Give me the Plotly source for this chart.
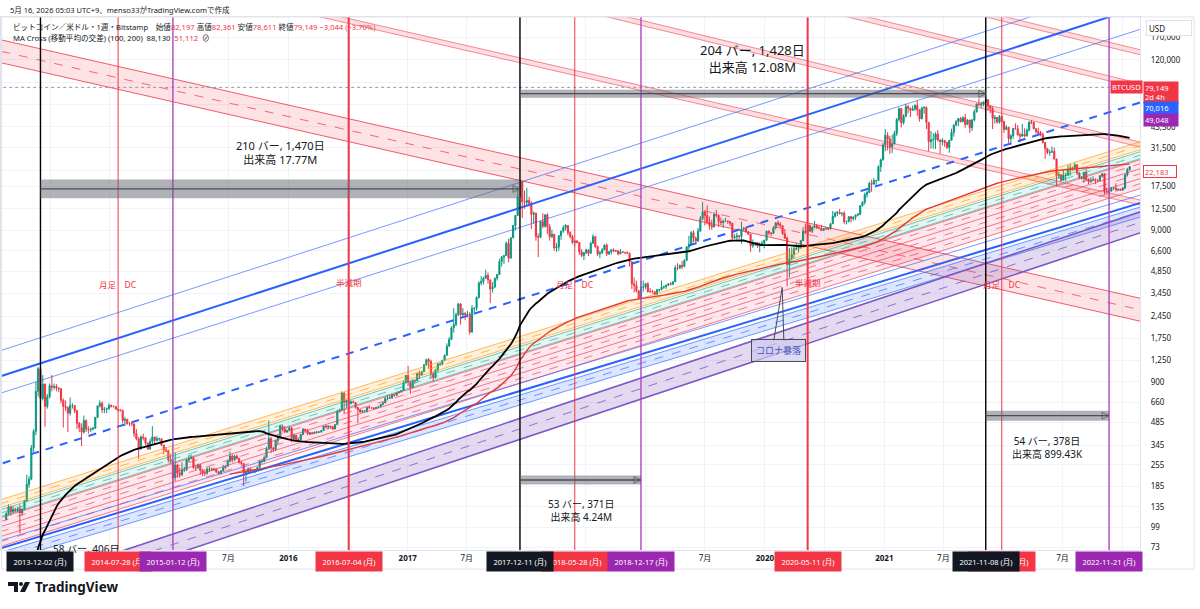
import numpy as np
import pandas as pd
import plotly.graph_objects as go

FONT = "Noto Sans, Noto Sans CJK JP, sans-serif"
INK = "#131722"
RED = "#f23645"
GREEN = "#089981"
BLUE = "#2962ff"
PURPLE = "#9c27b0"

# ---------------------------------------------------------------- DATA
# weekly closes before the visible window (2011-09-12 .. 2013-08-12); used only for the moving averages
pre_closes = [
    5.9, 5.3, 5.0, 4.9, 4.0, 3.2, 3.2, 3.2, 3.0, 2.3, 2.5, 2.8, 3.0, 3.2, 3.9, 4.7,
    6.5, 7.0, 6.3, 5.7, 5.9, 5.8, 4.3, 5.0, 4.9, 5.0, 5.3, 4.8, 4.9, 4.9, 4.9, 5.1, 5.1, 5.1,
    5.0, 5.1, 5.1, 5.2, 5.5, 5.9, 6.4, 6.6, 6.7, 7.3, 8.6, 8.8, 10.9, 11.5, 11.7, 10.5, 10.4,
    10.9, 11.4, 12.3, 12.3, 12.6, 11.8, 11.8, 10.6, 10.8, 10.9, 11.4, 12.3, 12.5,
    13.4, 13.5, 13.4, 13.4, 13.5,
    14.2, 15.3, 17.4, 20.6, 22.5, 26.3, 29.8, 34.3, 46.6, 47.0, 69.9, 93.0,
    162, 90, 127, 127, 112, 117, 122, 130, 122, 103, 100, 108, 94, 76, 94, 91, 95, 104, 105, 111,
]

first_week = "2013-08-19"
closes = [
    # 2013
    122, 135, 125, 130, 127, 131, 123, 130, 148, 190, 205, 330, 425, 780, 1100, 700, 870, 620, 720, 850,
    # 2014
    830, 840, 820, 810, 680, 620, 610, 560, 630, 630, 580, 480, 450, 420, 500, 440, 435,
    440, 445, 525, 625, 650, 590, 595, 600, 630, 620, 620, 595, 590, 585, 500, 510, 477,
    477, 475, 410, 380, 330, 390, 385, 355, 325, 365, 390, 370, 380, 380, 345, 320, 315, 275,
    # 2015
    270, 210, 255, 225, 220, 235, 237, 275, 280, 285, 245, 245, 255, 235, 225, 225, 240,
    240, 237, 240, 230, 223, 233, 244, 250, 270, 292, 275, 292, 281, 265, 260, 225, 229, 240,
    230, 230, 238, 246, 270, 270, 285, 325, 380, 330, 323, 370, 390, 460, 440, 420, 430,
    # 2016
    448, 380, 400, 370, 375, 405, 440, 430, 410, 415, 412, 420, 420, 420, 430, 460, 455,
    460, 455, 440, 470, 575, 585, 760, 660, 675, 650, 665, 660, 610, 590, 570, 580, 580, 610,
    608, 607, 600, 612, 617, 640, 655, 700, 705, 705, 740, 735, 765, 775, 790, 890, 995,
    # 2017
    900, 825, 920, 915, 1025, 1000, 1050, 1170, 1265, 1230, 1020, 960, 1080, 1180, 1180, 1250, 1350,
    1550, 1720, 2050, 2150, 2500, 2950, 2500, 2550, 2500, 2520, 1920, 2750, 2760, 3250,
    4050, 4150, 4350, 4550, 4250, 3700, 3800, 4350, 4600, 5600, 6000, 6150, 7400,
    5900, 8050, 9700, 11300, 15000, 18950, 13900, 13800,
    # 2018
    14200, 13600, 11500, 11700, 8200, 8100, 10300, 9600, 11400, 9500, 8200, 8500, 6900,
    7000, 8300, 8900, 9400, 9700, 8700, 8200, 7500, 7650, 7500, 6500, 6150, 6400,
    6700, 6350, 7400, 8200, 7050, 6300, 6400, 6700, 7200, 6300, 6500, 6700, 6600,
    6600, 6300, 6500, 6450, 6420, 6350, 5600, 4000, 3900, 3600, 3200, 3800, 3800, 4000,
    # 2019
    3550, 3550, 3550, 3400, 3650, 3650, 3800, 3830, 3920, 4000, 3970, 4130,
    5100, 5070, 5300, 5200, 5700, 7000, 7300, 8700, 8000, 7650, 8900, 10800, 11900,
    11300, 10200, 9700, 9500, 11500, 11300, 10300, 10150, 10400, 10400, 10300, 10050, 8050, 8150,
    8300, 8200, 9200, 9300, 8800, 8500, 7100, 7450, 7500, 7100, 7300, 7400, 7750,
    # 2020
    8900, 8650, 8600, 9350, 10100, 9900, 9650, 8550, 8000, 5350, 5850, 6250, 6800,
    6850, 7150, 7700, 8900, 8700, 9700, 8900, 9450, 9650, 9350, 9300, 9000, 9250,
    9300, 9200, 9950, 11150, 11700, 11850, 11650, 11700, 10250, 10300, 11100, 10750, 11050,
    11350, 11500, 13100, 13800, 15500, 16000, 18400, 18200, 19150, 19250, 23700, 26300, 33000,
    # 2021
    38200, 36000, 32100, 33500, 39200, 48600, 57400, 46200, 51000, 59100, 57500, 55800, 57100,
    60000, 56200, 49100, 58000, 58200, 46500, 34700, 35700, 35800, 39000, 35500, 34700, 35300,
    34300, 31800, 35400, 39900, 44600, 47000, 49300, 47100, 49900, 45000, 48200, 42800, 48200,
    54700, 61500, 60900, 61300, 63300, 65500, 59700, 57300, 49400, 50000, 46700, 50800, 47300,
    # 2022
    41800, 43100, 36300, 37900, 42400, 42200, 38400, 37700, 38800, 37800, 41300, 46800, 46400,
    42200, 40400, 39500, 38500, 34300, 31300, 29400, 29500, 29900, 26600, 20600, 21000, 19300,
    20800, 20800, 22600, 23300, 23200, 24400, 21500, 20000, 19800, 21800, 19400, 18900, 19300,
    19400, 19200, 19200, 20600, 21300, 16300, 16300, 16400, 17100, 17100, 16800, 16850, 16600,
    # 2023
    17100, 20900, 22700, 23700,
]
highs = [
    # 2013
    124, 140, 137, 136, 133, 135, 140, 132, 150, 220, 215, 345, 440, 900, 1130, 1163, 1000, 880, 750, 880,
    # 2014
    1000, 880, 870, 830, 820, 700, 680, 620, 710, 650, 630, 590, 490, 480, 540, 510, 460,
    450, 455, 530, 630, 680, 670, 615, 610, 650, 640, 630, 625, 600, 595, 590, 530, 515,
    490, 485, 480, 440, 390, 400, 410, 390, 360, 380, 460, 390, 395, 385, 380, 345, 335, 320,
    # 2015
    300, 275, 310, 260, 245, 265, 248, 280, 298, 298, 290, 255, 260, 258, 240, 238, 245,
    248, 245, 242, 240, 232, 236, 255, 252, 275, 312, 300, 296, 298, 285, 270, 263, 235, 245,
    245, 235, 240, 248, 272, 275, 295, 335, 502, 390, 335, 375, 400, 470, 465, 460, 435,
    # 2016
    460, 450, 410, 400, 380, 410, 445, 440, 440, 420, 420, 423, 425, 425, 432, 462, 470,
    465, 462, 460, 475, 590, 600, 780, 770, 690, 700, 680, 680, 660, 615, 600, 585, 585, 612,
    630, 612, 610, 615, 620, 645, 660, 720, 740, 735, 750, 745, 775, 780, 795, 920, 1000,
    # 2017
    1150, 910, 930, 925, 1030, 1070, 1060, 1180, 1280, 1295, 1260, 1050, 1100, 1200, 1210, 1260, 1360,
    1620, 1780, 2100, 2760, 2580, 2980, 2950, 2760, 2600, 2650, 2600, 2900, 2800, 3300,
    4150, 4500, 4450, 4950, 4750, 4250, 4100, 4400, 4650, 5850, 6100, 6200, 7600,
    7900, 8100, 9750, 11400, 17200, 19666, 19100, 16500,
    # 2018
    17200, 15000, 14000, 12000, 11800, 8600, 10400, 11700, 11500, 11700, 9900, 9100, 8500,
    7400, 8400, 8950, 9750, 9950, 9700, 8880, 8400, 7780, 7780, 7500, 6800, 6500,
    6800, 6750, 7600, 8500, 8200, 7150, 6600, 6900, 7300, 7400, 6600, 6800, 6850,
    6700, 6650, 6800, 6580, 6450, 6550, 6450, 5600, 4400, 4200, 3600, 4200, 4200, 4050,
    # 2019
    4100, 3750, 3650, 3550, 3700, 3700, 4200, 3880, 3950, 4050, 4100, 4150,
    5300, 5470, 5350, 5650, 5800, 7100, 8300, 8900, 9000, 8200, 9350, 11200, 13880,
    12200, 13200, 11100, 10600, 11900, 12300, 11500, 10950, 10600, 10900, 10450, 10300, 10050, 8500,
    8700, 8400, 10300, 9500, 9500, 8900, 8500, 7850, 7550, 7500, 7500, 7700, 7800,
    # 2020
    8950, 9000, 8750, 9600, 10200, 10500, 10250, 9700, 9200, 8200, 6900, 6950, 7200,
    7450, 7250, 7800, 9450, 10000, 9950, 9850, 9600, 10400, 9950, 9600, 9800, 9300,
    9450, 9300, 10100, 12100, 11950, 12100, 12450, 11800, 12050, 10450, 11100, 11150, 11100,
    11500, 11700, 13250, 14050, 15950, 16450, 18900, 19450, 19900, 19300, 24200, 26800, 34000,
    # 2021
    41950, 40000, 37800, 38500, 40900, 49700, 58300, 57500, 52600, 61700, 60600, 58300, 60000,
    61300, 64800, 57000, 58400, 59600, 59500, 46600, 40800, 39500, 40000, 41400, 36000, 36600,
    35400, 34600, 35400, 42200, 45200, 48100, 49400, 50500, 51000, 52900, 48800, 48400, 49000,
    56500, 62000, 67000, 63700, 64200, 69000, 66300, 59800, 59200, 51900, 50500, 52000, 52100,
    # 2022
    47500, 44500, 43500, 38900, 42500, 45800, 44700, 39800, 45400, 42500, 42400, 47100, 48200,
    47000, 42400, 42900, 40800, 39900, 34300, 31300, 30700, 32300, 31700, 26800, 21900, 21100,
    22500, 21600, 24300, 24600, 23700, 25200, 24500, 21800, 20600, 21900, 22800, 19900, 20200,
    20500, 19900, 19700, 20900, 21500, 21400, 17200, 16800, 17400, 17400, 18400, 16950, 16900,
    # 2023
    17400, 21300, 23300, 23900,
]
lows = [
    # 2013
    110, 118, 118, 122, 124, 124, 90, 118, 128, 145, 180, 202, 310, 400, 720, 576, 680, 455, 600, 700,
    # 2014
    780, 800, 780, 770, 650, 450, 580, 420, 540, 600, 560, 440, 420, 340, 410, 420, 410,
    420, 430, 440, 520, 610, 560, 560, 560, 590, 610, 610, 590, 570, 575, 480, 460, 470,
    460, 460, 390, 370, 280, 320, 370, 345, 320, 320, 350, 345, 365, 365, 340, 300, 310, 265,
    # 2015
    260, 170, 200, 210, 210, 215, 230, 233, 265, 280, 240, 235, 240, 220, 215, 215, 220,
    230, 232, 233, 225, 220, 223, 230, 240, 250, 265, 265, 270, 278, 260, 255, 185, 198, 225,
    228, 225, 225, 235, 243, 260, 265, 285, 320, 305, 310, 315, 350, 385, 425, 415, 415,
    # 2016
    425, 360, 370, 365, 365, 370, 400, 415, 400, 405, 405, 410, 410, 415, 418, 428, 445,
    440, 445, 435, 440, 470, 565, 580, 560, 610, 600, 640, 650, 600, 480, 565, 565, 565, 565,
    600, 600, 590, 598, 605, 615, 630, 650, 680, 695, 700, 720, 730, 755, 765, 790, 880,
    # 2017
    850, 750, 820, 880, 915, 940, 990, 1050, 1160, 1100, 950, 900, 950, 1050, 1150, 1160, 1240,
    1350, 1550, 1700, 1900, 2100, 2450, 2150, 2400, 2300, 2400, 1850, 1900, 2500, 2650,
    3200, 3900, 3950, 4300, 4000, 2980, 3500, 3800, 4200, 4600, 5200, 5400, 6100,
    5550, 5900, 8000, 9000, 11200, 15000, 10900, 12500,
    # 2018
    13000, 12900, 9200, 10000, 7700, 6000, 8000, 9300, 9400, 8500, 7700, 8000, 6600,
    6500, 6600, 7800, 8700, 9000, 8350, 7950, 7300, 7050, 7400, 6200, 6000, 5750,
    6300, 6100, 6350, 7400, 6900, 6100, 5900, 6300, 6700, 6100, 6200, 6250, 6450,
    6500, 6150, 6300, 6380, 6300, 6300, 5200, 3700, 3500, 3500, 3200, 3150, 3550, 3700,
    # 2019
    3500, 3500, 3450, 3350, 3380, 3550, 3640, 3700, 3700, 3850, 3900, 3930,
    4100, 4900, 5030, 5000, 5150, 5650, 6600, 7300, 7500, 7450, 7600, 8900, 10500,
    9700, 9900, 9100, 9100, 9400, 11000, 9500, 9750, 9350, 10200, 9950, 9600, 7800, 7900,
    7800, 7900, 7350, 8900, 8700, 8400, 6500, 6900, 7100, 6900, 6450, 7100, 6850,
    # 2020
    7750, 8400, 8250, 8500, 9150, 9600, 9400, 8400, 7900, 3850, 4400, 5700, 5850,
    6700, 6450, 6800, 7650, 8500, 8150, 8800, 8650, 9250, 9200, 9200, 8900, 8950,
    9100, 9050, 9150, 9950, 10950, 11200, 11450, 11150, 9900, 9850, 10200, 10150, 10450,
    10550, 11200, 11400, 12950, 13300, 14850, 15900, 16200, 18000, 17600, 19000, 21900, 26000,
    # 2021
    30000, 30400, 28800, 29200, 33400, 37900, 47000, 43000, 45000, 50300, 53300, 50500, 55700,
    55500, 51300, 47000, 48800, 52900, 42000, 30000, 31200, 31100, 31000, 34800, 28800, 32700,
    32100, 31000, 29300, 35300, 37500, 43800, 43900, 46400, 46500, 42800, 44800, 39600, 40800,
    47100, 53900, 59600, 58000, 59400, 62300, 55600, 53500, 42000, 45700, 45600, 45600, 45700,
    # 2022
    39600, 41300, 34000, 33000, 36300, 41700, 38000, 34300, 37600, 37200, 37500, 40500, 45200,
    41900, 39200, 38600, 37600, 33700, 26700, 28700, 28000, 29300, 26500, 17600, 19700, 18800,
    19300, 19000, 20700, 20700, 22400, 22700, 20900, 19600, 19500, 18600, 19300, 18200, 18500,
    19100, 18200, 18800, 19150, 20100, 15600, 15800, 15500, 16200, 16700, 16300, 16500, 16400,
    # 2023
    16600, 17000, 20400, 22300,
]

# time-axis tick labels ("" where the reference hides the label behind a date marker)
x_tick_dates = ["2014-01-01", "2014-07-01", "2015-01-01", "2015-07-01", "2016-01-01", "2016-07-01",
                "2017-01-01", "2017-07-01", "2018-01-01", "2018-07-01", "2019-01-01", "2019-07-01",
                "2020-01-01", "2020-07-01", "2021-01-01", "2021-07-01", "2022-01-01", "2022-07-01",
                "2023-01-01"]
x_tick_text = ["", "", "", "7月", "<b>2016</b>", "", "<b>2017</b>", "7月", "", "", "", "7月",
               "<b>2020</b>", "", "<b>2021</b>", "7月", "", "7月", ""]
# price-axis tick labels (covered ones left blank)
y_tick_values = [73, 99, 135, 185, 255, 345, 485, 660, 900, 1250, 1750, 2450, 3450, 4850, 6600, 9000,
                 12500, 17500, 22500, 31500, 43500, 61000, 85000, 120000, 170000]
y_tick_text = ["73", "99", "135", "185", "255", "345", "485", "660", "900", "1,250", "1,750", "2,450",
               "3,450", "4,850", "6,600", "9,000", "12,500", "17,500", "", "31,500", "43,500", "", "",
               "120,000", "170,000"]

# drawings (trend lines given by their price on two anchor dates)
anchor_a, anchor_b = "2014-01-01", "2022-01-01"
blue_upper_thin = (1850, 202300)
blue_upper = (1254, 137100)
blue_upper_inner = (966, 98380)
blue_mid = (329.3, 32550)
blue_lower_thin = (101.6, 8201)
blue_lower = (90.1, 7265)
blue_band = [(84.8, 6839), (78.6, 6340), (72.9, 5878)]
purple_band = [(47.97, 5971), (40.9, 5094), (34.9, 4345)]
rainbow_base = (190.5, 18030)
rainbow_levels = [1.0, 0.941, 0.886, 0.860, 0.815, 0.773, 0.761, 0.717, 0.664, 0.616, 0.571, 0.529, 0.491]
desc_wide = (137500, 5142)
desc_wide_levels = [1.0, 0.840, 0.706]
desc_narrow = [(1969000, 57200), (637600, 23000), (4800000, 139400), (8020000, 232900)]
desc_narrow_ratio = 0.927

vlines_black = ["2013-12-02", "2017-12-11", "2021-11-08"]
vlines_red_thin = ["2014-07-28", "2018-05-28", "2021-12-27"]
vlines_red_thick = ["2016-07-04", "2020-05-11"]
vlines_purple = ["2015-01-12", "2018-12-17", "2022-11-21"]

box_start = ["2013-12-02", "2017-12-11", "2017-12-11", "2021-11-08"]
box_end = ["2017-12-11", "2021-11-08", "2018-12-17", "2022-11-21"]
box_top = [19540, 76380, 217, 581.7]
box_bottom = [14650, 67680, 189.6, 499.8]
box_text = ["210 バー, 1,470日<br>出来高 17.77M", "204 バー, 1,428日<br>出来高 12.08M",
            "53 バー, 371日<br>出来高 4.24M", "54 バー, 378日<br>出来高 899.43K"]
box_text_date = ["2015-12-09", "2019-11-24", "2018-06-15", "2022-05-17"]
box_text_price = [29200, 122200, 127.9, 334.6]

dc_dates = ["2014-07-28", "2018-05-28", "2021-12-27"]
halving_dates = ["2016-07-04", "2020-05-11"]
dc_label_price = 3980
halving_label_price = 4100

corona_box_date, corona_box_price = "2020-02-12", 1443
corona_tip = ("2020-02-23", 3788)
corona_base = (("2020-01-28", 1680), ("2020-02-28", 1680))

last_price = 79149

# ---------------------------------------------------------------- BUILD
dates = pd.date_range(first_week, periods=len(closes), freq="W-MON")
pre_dates = pd.date_range(end=dates[0] - pd.Timedelta(days=7), periods=len(pre_closes), freq="W-MON")
all_close = pd.Series(pre_closes + closes, index=pre_dates.append(dates), dtype=float)
sma100 = all_close.rolling(100).mean().loc[dates]
sma200 = all_close.rolling(200).mean().loc[dates]

opens = [pre_closes[-1]] + closes[:-1]
hi = [max(h, o, c) for h, o, c in zip(highs, opens, closes)]
lo = [min(l, o, c) for l, o, c in zip(lows, opens, closes)]

tA, tB = pd.Timestamp(anchor_a), pd.Timestamp(anchor_b)
X0, X1 = pd.Timestamp("2013-01-01"), pd.Timestamp("2024-01-01")


def line_pts(p, scale=1.0):
    la, lb = np.log10(p[0] * scale), np.log10(p[1] * scale)
    span = (tB - tA).days
    f = lambda t: 10 ** (la + (lb - la) * (t - tA).days / span)
    return [X0, X1], [f(X0), f(X1)]


fig = go.Figure()


def add_line(p, color, width=1.0, dash="solid", scale=1.0, opacity=1.0):
    xs, ys = line_pts(p, scale)
    fig.add_trace(go.Scatter(x=xs, y=ys, mode="lines", opacity=opacity,
                             line=dict(color=color, width=width, dash=dash), hoverinfo="skip"))


def add_band(p_top, p_bot, fill, s_top=1.0, s_bot=1.0):
    xa, ya = line_pts(p_top, s_top)
    xb, yb = line_pts(p_bot, s_bot)
    fig.add_trace(go.Scatter(x=[xa[0], xa[1], xb[1], xb[0], xa[0]], y=[ya[0], ya[1], yb[1], yb[0], ya[0]],
                             mode="lines", fill="toself", fillcolor=fill, line=dict(width=0),
                             hoverinfo="skip"))


# descending wide pink band
add_band(desc_wide, desc_wide, "rgba(242,54,69,0.14)", desc_wide_levels[0], desc_wide_levels[2])
add_line(desc_wide, RED, 1, scale=desc_wide_levels[0], opacity=0.8)
add_line(desc_wide, RED, 1, "dash", scale=desc_wide_levels[1], opacity=0.7)
add_line(desc_wide, RED, 1, scale=desc_wide_levels[2], opacity=0.8)
# descending narrow pink bands
for p in desc_narrow:
    add_band(p, p, "rgba(242,54,69,0.16)", 1.0, desc_narrow_ratio)
    add_line(p, RED, 1, opacity=0.55)
    add_line(p, RED, 1, scale=desc_narrow_ratio, opacity=0.55)

# rainbow channel
rl = rainbow_levels
add_band(rainbow_base, rainbow_base, "rgba(255,152,0,0.14)", rl[0], rl[2])
add_band(rainbow_base, rainbow_base, "rgba(34,171,148,0.12)", rl[3], rl[5])
add_band(rainbow_base, rainbow_base, "rgba(233,30,99,0.10)", rl[6], rl[12])
for i, s in enumerate(rl):
    if i < 3:
        c = "#ff9800"
    elif i < 6:
        c = "#22ab94"
    else:
        c = RED
    d = "dash" if i in (1, 4, 7, 9, 11) else "solid"
    add_line(rainbow_base, c, 0.8, d, scale=s, opacity=0.8)

# blue channel
add_line(blue_upper_thin, BLUE, 0.8, opacity=0.8)
add_line(blue_upper, BLUE, 2)
add_line(blue_upper_inner, BLUE, 0.8, opacity=0.8)
add_line(blue_mid, BLUE, 2, dash="8px,7px")
add_line(blue_lower_thin, BLUE, 0.8, opacity=0.8)
add_line(blue_lower, BLUE, 2)
add_band(blue_band[0], blue_band[2], "rgba(41,98,255,0.16)")
add_line(blue_band[0], BLUE, 0.8, opacity=0.8)
add_line(blue_band[1], BLUE, 0.8, "dash", opacity=0.8)
add_line(blue_band[2], BLUE, 0.8, opacity=0.8)

# purple channel
add_band(purple_band[0], purple_band[2], "rgba(126,87,194,0.22)")
add_line(purple_band[0], "#7e57c2", 1.6)
add_line(purple_band[1], "#7e57c2", 1, "dash", opacity=0.8)
add_line(purple_band[2], "#7e57c2", 1.6)

# candles
fig.add_trace(go.Candlestick(
    x=dates, open=opens, high=hi, low=lo, close=closes, whiskerwidth=0,
    increasing=dict(line=dict(color=GREEN, width=1), fillcolor=GREEN),
    decreasing=dict(line=dict(color=RED, width=1), fillcolor=RED),
    hoverinfo="skip"))

# moving averages
fig.add_trace(go.Scatter(x=dates, y=sma100, mode="lines", line=dict(color="#000000", width=1.8), hoverinfo="skip"))
fig.add_trace(go.Scatter(x=dates, y=sma200, mode="lines", line=dict(color="#e53935", width=1.4), hoverinfo="skip"))

# last price dotted line
fig.add_trace(go.Scatter(x=[X0, pd.Timestamp("2023-01-30")], y=[last_price, last_price], mode="lines",
                         line=dict(color="#9598a1", width=1, dash="dot"), hoverinfo="skip"))


# vertical lines
def vlines(ds, color, width):
    xs, ys = [], []
    for d in ds:
        xs += [pd.Timestamp(d), pd.Timestamp(d), None]
        ys += [10, 1e7, None]
    fig.add_trace(go.Scatter(x=xs, y=ys, mode="lines", line=dict(color=color, width=width), hoverinfo="skip"))


vlines(vlines_red_thin, RED, 1)
vlines(vlines_red_thick, RED, 2)
vlines(vlines_purple, "#ab47bc", 1.4)
vlines(vlines_black, "#000000", 1.4)

# date-range boxes
for s, e, t, b in zip(box_start, box_end, box_top, box_bottom):
    s, e = pd.Timestamp(s), pd.Timestamp(e)
    fig.add_trace(go.Scatter(x=[s, e, e, s, s], y=[t, t, b, b, t], mode="lines", fill="toself",
                             fillcolor="rgba(100,102,112,0.5)", line=dict(width=0), hoverinfo="skip"))
    m = np.sqrt(t * b)
    fig.add_trace(go.Scatter(x=[s, e], y=[m, m], mode="lines+markers",
                             line=dict(color="#4a4d57", width=1.3),
                             marker=dict(symbol=["circle", "arrow-right-open"], size=[0, 7],
                                         color="#4a4d57", line=dict(color="#4a4d57", width=1)),
                             hoverinfo="skip"))

# corona callout pointer
(cb0d, cb0p), (cb1d, cb1p) = corona_base
fig.add_trace(go.Scatter(x=[pd.Timestamp(cb0d), pd.Timestamp(corona_tip[0]), pd.Timestamp(cb1d)],
                         y=[cb0p, corona_tip[1], cb1p], mode="lines",
                         line=dict(color="#4a4d57", width=1), hoverinfo="skip"))

# ---------------------------------------------------------------- LAYOUT
W, H = 1200, 609
PX_R, PX_T, PX_B = 1140, 17, 552


def px(x):
    return x / W


def py(y):
    return (H - y) / H


fig.update_layout(
    width=W, height=H, margin=dict(l=0, r=0, t=0, b=0),
    paper_bgcolor="white", plot_bgcolor="white", showlegend=False,
    font=dict(family=FONT, size=8, color=INK),
    xaxis=dict(type="date", range=["2013-08-03", "2023-02-24"], domain=[0, px(PX_R)],
               tickvals=x_tick_dates, ticktext=x_tick_text, tickfont=dict(size=8, color=INK),
               showgrid=True, gridcolor="#f0f3fa", gridwidth=1, zeroline=False,
               showline=True, linecolor="#e0e3eb", mirror=True, ticks="", ticklen=0,
               rangeslider=dict(visible=False), fixedrange=True),
    yaxis=dict(type="log", range=[np.log10(69.8), np.log10(230800)], side="right",
               domain=[py(PX_B), py(PX_T)],
               tickvals=y_tick_values, ticktext=y_tick_text,
               tickfont=dict(size=8, color=INK), showgrid=True, gridcolor="#f0f3fa",
               zeroline=False, showline=True, linecolor="#e0e3eb", mirror=True, ticks="",
               ticklabelstandoff=8, fixedrange=True),
)

ann = []


def A(**k):
    ann.append(k)


# header + legend
A(x=px(7), y=py(10), xref="paper", yref="paper", xanchor="left", yanchor="middle", showarrow=False,
  text="5月 16, 2026 05:03 UTC+9、menso33がTradingView.comで作成", font=dict(size=7.5, color=INK))
rs = "<span style='color:#f23645'>"
A(x=px(10), y=py(27), xref="paper", yref="paper", xanchor="left", yanchor="middle", showarrow=False,
  text=f"ビットコイン／米ドル・1週・Bitstamp　始値{rs}82,197</span> 高値{rs}82,361</span> "
       f"安値{rs}78,611</span> 終値{rs}79,149</span> {rs}−3,044 (−3.70%)</span>",
  font=dict(size=7.6, color=INK))
A(x=px(10), y=py(38), xref="paper", yref="paper", xanchor="left", yanchor="middle", showarrow=False,
  text=f"MA Cross (移動平均の交差) (100, 200)  88,130  {rs}51,112</span>  ⊘",
  font=dict(size=7.6, color=INK))

# range texts
sizes = [11, 13, 10, 10]
for t, d, p, s in zip(box_text, box_text_date, box_text_price, sizes):
    A(x=d, y=np.log10(p), xref="x", yref="y", showarrow=False, text=t, align="center",
      font=dict(size=s, color=INK))
A(x="2014-04-20", y=np.log10(71.5), xref="x", yref="y", showarrow=False, text="58 バー, 406日",
  font=dict(size=10, color=INK), yanchor="middle")

for d in dc_dates:
    A(x=d, y=np.log10(dc_label_price), xref="x", yref="y", showarrow=False, text="月足　DC",
      font=dict(size=8.5, color=RED))
for d in halving_dates:
    A(x=d, y=np.log10(halving_label_price), xref="x", yref="y", showarrow=False, text="半減期",
      font=dict(size=8.5, color=RED))

A(x=corona_box_date, y=np.log10(corona_box_price), xref="x", yref="y", showarrow=False,
  text="コロナ暴落", font=dict(size=9, color="#3f51b5"), bgcolor="rgba(206,200,240,0.7)",
  bordercolor="#4a4d57", borderwidth=1, borderpad=4)


# time-axis date labels
def xlab(d, color):
    A(x=d, y=py(563), xref="x", yref="paper", showarrow=False, text=f"{d} (月)",
      font=dict(size=7.5, color="white"), bgcolor=color, width=62, height=15, borderpad=2,
      yanchor="middle")


for d in vlines_red_thin + vlines_red_thick:
    xlab(d, RED)
for d in vlines_purple:
    xlab(d, PURPLE)
for d in vlines_black:
    xlab(d, INK)

# price-scale labels
A(x=px(1146), y=py(28), xref="paper", yref="paper", xanchor="left", yanchor="middle", showarrow=False,
  text="USD", font=dict(size=8, color=INK), bgcolor="white", bordercolor="#e0e3eb", borderwidth=1,
  width=40, height=10, align="left", borderpad=2)
A(x=px(1143), y=np.log10(last_price), xref="paper", yref="y", xanchor="right", yanchor="middle",
  showarrow=False, text="BTCUSD", font=dict(size=7.5, color="white"), bgcolor=RED, borderpad=1,
  height=10)
A(x=px(1143), y=np.log10(last_price), xref="paper", yref="y", xanchor="left", yanchor="top", yshift=6,
  showarrow=False, text="79,149<br>2d 4h", font=dict(size=7.5, color="white"), bgcolor=RED,
  borderpad=1, width=32, height=19, align="left")
A(x=px(1143), y=np.log10(70016), xref="paper", yref="y", xanchor="left", yanchor="middle", yshift=-13,
  showarrow=False, text="70,016", font=dict(size=7.5, color="white"), bgcolor=BLUE, borderpad=1,
  width=32, height=10, align="left")
A(x=px(1143), y=np.log10(49048), xref="paper", yref="y", xanchor="left", yanchor="middle", yshift=-1,
  showarrow=False, text="49,048", font=dict(size=7.5, color="white"), bgcolor=PURPLE, borderpad=1,
  width=32, height=10, align="left")
A(x=px(1143), y=np.log10(22183), xref="paper", yref="y", xanchor="left", yanchor="middle",
  showarrow=False, text="22,183", font=dict(size=7.5, color=RED), bgcolor="white", bordercolor=RED,
  borderwidth=1, borderpad=1, width=30, height=9, align="left")

# TradingView wordmark
A(x=px(32), y=py(589), xref="paper", yref="paper", xanchor="left", yanchor="middle", showarrow=False,
  text="<b>TradingView</b>", font=dict(size=13.5, color=INK))
fig.update_layout(annotations=ann)

shapes = [
    dict(type="rect", xref="paper", yref="paper", x0=px(0.5), x1=px(1194), y0=py(571), y1=py(PX_T),
         line=dict(color="#e0e3eb", width=1)),
    # logo
    dict(type="path", xref="paper", yref="paper",
         path=f"M {px(7)},{py(584)} L {px(17)},{py(584)} L {px(17)},{py(594)} L {px(13)},{py(594)} "
              f"L {px(13)},{py(588)} L {px(7)},{py(588)} Z", fillcolor=INK, line=dict(width=0)),
    dict(type="circle", xref="paper", yref="paper", x0=px(18), x1=px(22), y0=py(588), y1=py(584),
         fillcolor=INK, line=dict(width=0)),
    dict(type="path", xref="paper", yref="paper",
         path=f"M {px(19)},{py(594)} L {px(24)},{py(584)} L {px(29)},{py(584)} L {px(24)},{py(594)} Z",
         fillcolor=INK, line=dict(width=0)),
]
fig.update_layout(shapes=shapes)

fig.write_html("out.html")
